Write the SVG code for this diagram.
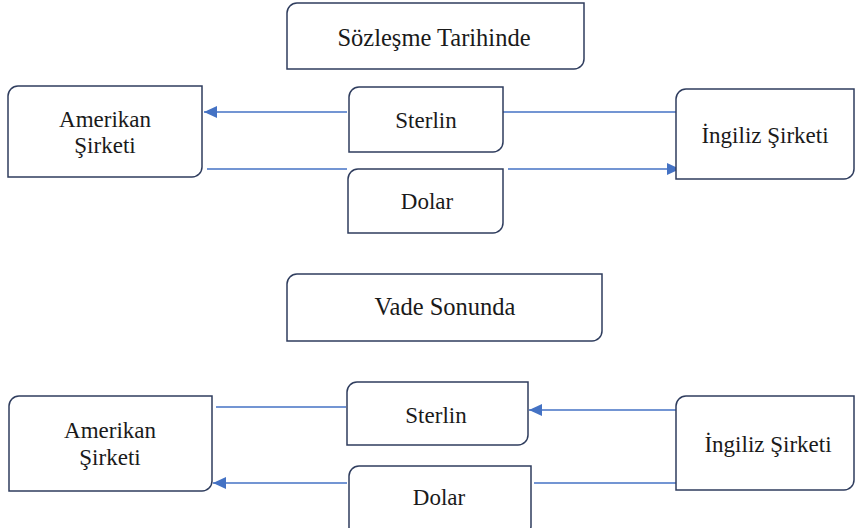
<svg xmlns="http://www.w3.org/2000/svg" width="855" height="528" viewBox="0 0 855 528">
<style>
.box{fill:#ffffff;stroke:#2f3d5e;stroke-width:1.5}
.lbl{font-family:"Liberation Serif","Times New Roman",serif;font-size:23px;fill:#1a1a1a;text-anchor:middle}
.hd{font-size:24.5px}
.ln{stroke:#4472c4;stroke-width:1.5;fill:none}
</style>
<defs>
<marker id="ah" markerUnits="userSpaceOnUse" markerWidth="14" markerHeight="12" refX="13" refY="6" orient="auto">
<path d="M0,0 L13,6 L0,12 Z" fill="#4472c4"/>
</marker>
</defs>
<rect width="855" height="528" fill="#ffffff"/>
<g id="connectors">
<line class="ln" x1="347" y1="112" x2="204" y2="112" marker-end="url(#ah)"/>
<line class="ln" x1="503" y1="112" x2="676" y2="112"/>
<line class="ln" x1="207" y1="169" x2="347" y2="169"/>
<line class="ln" x1="508" y1="169" x2="680" y2="169" marker-end="url(#ah)"/>
<line class="ln" x1="216" y1="407" x2="346" y2="407"/>
<line class="ln" x1="676" y1="410" x2="529" y2="410" marker-end="url(#ah)"/>
<line class="ln" x1="347" y1="483" x2="213" y2="483" marker-end="url(#ah)"/>
<line class="ln" x1="680" y1="483" x2="534" y2="483"/>
</g>
<g id="sozlesme-tarihinde">
<path class="box" d="M297,3 H584 V59 A10,10 0 0 1 574,69 H287 V13 A10,10 0 0 1 297,3 Z"/>
<text class="lbl hd" x="434" y="46">Sözleşme Tarihinde</text>
</g>
<g id="amerikan-1">
<path class="box" d="M18,86 H202 V167 A10,10 0 0 1 192,177 H8 V96 A10,10 0 0 1 18,86 Z"/>
<text class="lbl" x="105" y="127">Amerikan</text>
<text class="lbl" x="105" y="153">Şirketi</text>
</g>
<g id="sterlin-1">
<path class="box" d="M359,87 H503 V142 A10,10 0 0 1 493,152 H349 V97 A10,10 0 0 1 359,87 Z"/>
<text class="lbl" x="426" y="128">Sterlin</text>
</g>
<g id="dolar-1">
<path class="box" d="M358,169 H503 V223 A10,10 0 0 1 493,233 H348 V179 A10,10 0 0 1 358,169 Z"/>
<text class="lbl" x="427" y="209">Dolar</text>
</g>
<g id="ingiliz-1">
<path class="box" d="M686,89 H854 V169 A10,10 0 0 1 844,179 H676 V99 A10,10 0 0 1 686,89 Z"/>
<text class="lbl" x="765" y="143">İngiliz Şirketi</text>
</g>
<g id="vade-sonunda">
<path class="box" d="M297,274 H602 V331 A10,10 0 0 1 592,341 H287 V284 A10,10 0 0 1 297,274 Z"/>
<text class="lbl hd" x="445" y="315">Vade Sonunda</text>
</g>
<g id="amerikan-2">
<path class="box" d="M19,396 H212 V481 A10,10 0 0 1 202,491 H9 V406 A10,10 0 0 1 19,396 Z"/>
<text class="lbl" x="110" y="438">Amerikan</text>
<text class="lbl" x="110" y="465">Şirketi</text>
</g>
<g id="sterlin-2">
<path class="box" d="M357,382 H528 V435 A10,10 0 0 1 518,445 H347 V392 A10,10 0 0 1 357,382 Z"/>
<text class="lbl" x="436" y="423">Sterlin</text>
</g>
<g id="dolar-2">
<path class="box" d="M359,466 H531 V526 A10,10 0 0 1 521,536 H349 V476 A10,10 0 0 1 359,466 Z"/>
<text class="lbl" x="439" y="505">Dolar</text>
</g>
<g id="ingiliz-2">
<path class="box" d="M686,396 H854 V480 A10,10 0 0 1 844,490 H676 V406 A10,10 0 0 1 686,396 Z"/>
<text class="lbl" x="768" y="452">İngiliz Şirketi</text>
</g>
</svg>
